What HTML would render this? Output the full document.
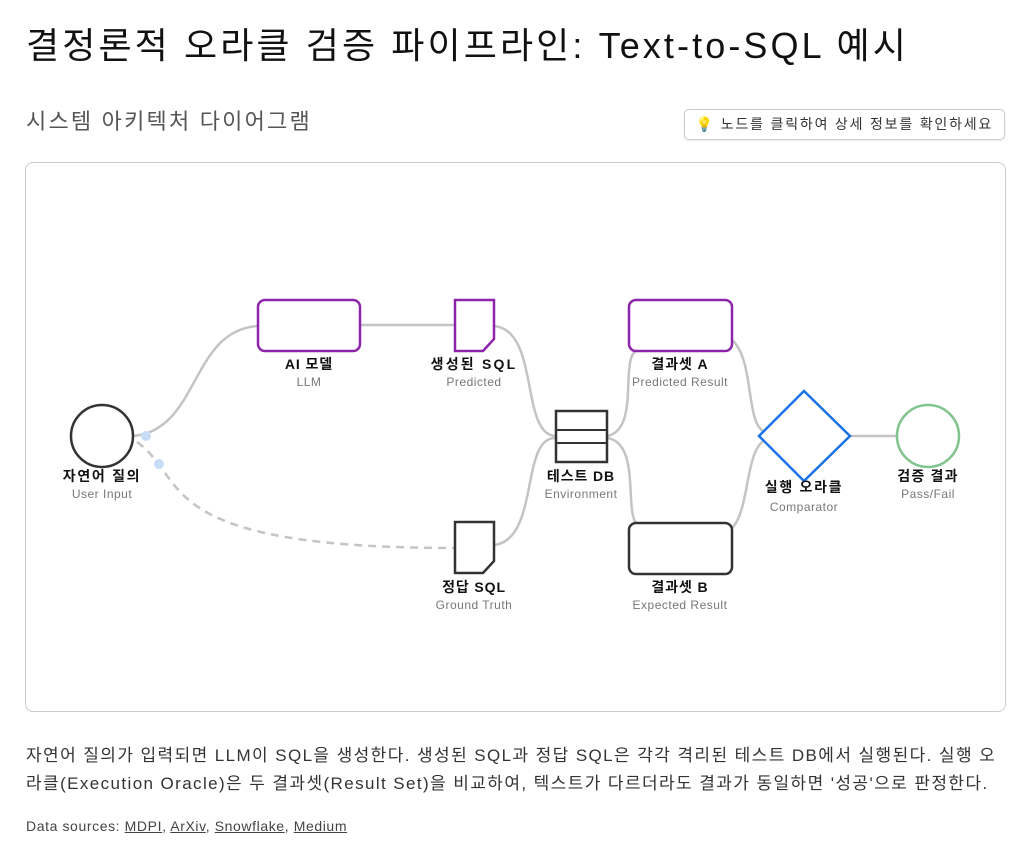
<!DOCTYPE html>
<html><head><meta charset="utf-8">
<style>
html,body{margin:0;padding:0;background:#fff;width:1024px;height:849px;overflow:hidden}
body{font-family:"Liberation Sans","Noto Sans CJK KR",sans-serif;color:#111;position:relative}
.t{position:absolute;white-space:nowrap}
</style></head><body>
<div class="t" style="left:26px;top:22px;font-size:36px;line-height:48px;color:#111;letter-spacing:3.1px">결정론적 오라클 검증 파이프라인: Text-to-SQL 예시</div>
<div class="t" style="left:26px;top:107px;font-size:22px;line-height:30px;color:#555;letter-spacing:2.2px">시스템 아키텍처 다이어그램</div>
<div class="t" style="left:684px;top:109px;width:321px;height:31px;border:1px solid #ccc;border-radius:5px;box-sizing:border-box;font-size:14px;line-height:29px;text-align:center;color:#333;letter-spacing:1.8px;box-shadow:0 1px 2px rgba(0,0,0,.08)">💡 노드를 클릭하여 상세 정보를 확인하세요</div>
<div class="t" style="left:25px;top:162px;width:981px;height:550px;border:1px solid #ccc;border-radius:8px;box-sizing:border-box"></div>
<svg style="position:absolute;left:0;top:0" width="1024" height="849" font-family="Liberation Sans, Noto Sans CJK KR, sans-serif">
<g fill="none" stroke="#c4c4c4" stroke-width="2.5">
<path d="M133,436 C200,430 190,330 258,326"/>
<path d="M360,325 L455,325"/>
<path d="M494,326 C540,330 520,436 556,436"/>
<path d="M494,545 C540,540 520,436 556,438"/>
<path d="M607,436 C640,430 620,360 636,351"/>
<path d="M607,438 C640,442 625,510 636,523"/>
<path d="M732,340 C755,360 745,425 765,432"/>
<path d="M732,528 C750,510 745,450 765,440"/>
<path d="M850,436 L897,436"/>
<path d="M137,442 C190,480 150,548 455,548" stroke-dasharray="8,6"/>
</g>
<circle cx="146" cy="436" r="5" fill="#c6dcf7"/>
<circle cx="159" cy="464" r="5" fill="#c6dcf7"/>
<g stroke-width="2.5" fill="#fff">
<circle cx="102" cy="436" r="31" stroke="#333"/>
<rect x="258" y="300" width="102" height="51" rx="7" stroke="#8e24aa"/>
<path d="M455,300 H494 V339 L483,351 H455 Z" stroke="#8e24aa"/>
<path d="M455,522 H494 V561 L483,573 H455 Z" stroke="#333"/>
<rect x="556" y="411" width="51" height="51" stroke="#333"/>
<line x1="556" y1="430" x2="607" y2="430" stroke="#333" stroke-width="2"/>
<line x1="556" y1="443" x2="607" y2="443" stroke="#333" stroke-width="2"/>
<rect x="629" y="300" width="103" height="51" rx="7" stroke="#8e24aa"/>
<rect x="629" y="523" width="103" height="51" rx="7" stroke="#333"/>
<path d="M804,391 L850,436 L804,481 L759,436 Z" stroke="#1a73e8"/>
<circle cx="928" cy="436" r="31" stroke="#7ec48c"/>
</g>
<g text-anchor="middle">
<g font-size="14" font-weight="bold" fill="#111" letter-spacing="0.9">
<text x="309" y="369">AI 모델</text>
<text x="474" y="369" letter-spacing="2.2">생성된 SQL</text>
<text x="102" y="481" letter-spacing="1.7">자연어 질의</text>
<text x="581" y="481">테스트 DB</text>
<text x="680" y="369">결과셋 A</text>
<text x="680" y="592">결과셋 B</text>
<text x="804" y="492" letter-spacing="1.7">실행 오라클</text>
<text x="928" y="481" letter-spacing="1.2">검증 결과</text>
<text x="474" y="592">정답 SQL</text>
</g>
<g font-size="12" fill="#777" letter-spacing="0.5">
<text x="309" y="386">LLM</text>
<text x="474" y="386">Predicted</text>
<text x="102" y="498">User Input</text>
<text x="581" y="498">Environment</text>
<text x="680" y="386">Predicted Result</text>
<text x="680" y="609">Expected Result</text>
<text x="804" y="511">Comparator</text>
<text x="928" y="498">Pass/Fail</text>
<text x="474" y="609">Ground Truth</text>
</g>
</g>
</svg>
<div class="t" style="left:26px;top:742px;font-size:17px;line-height:28px;color:#333;letter-spacing:1.4px">자연어 질의가 입력되면 LLM이 SQL을 생성한다. 생성된 SQL과 정답 SQL은 각각 격리된 테스트 DB에서 실행된다. 실행 오<br>라클(Execution Oracle)은 두 결과셋(Result Set)을 비교하여, 텍스트가 다르더라도 결과가 동일하면 '성공'으로 판정한다.</div>
<div class="t" style="left:26px;top:816px;font-size:14px;line-height:20px;color:#444;letter-spacing:0.6px">Data sources: <u>MDPI</u>, <u>ArXiv</u>, <u>Snowflake</u>, <u>Medium</u></div>
</body></html>
